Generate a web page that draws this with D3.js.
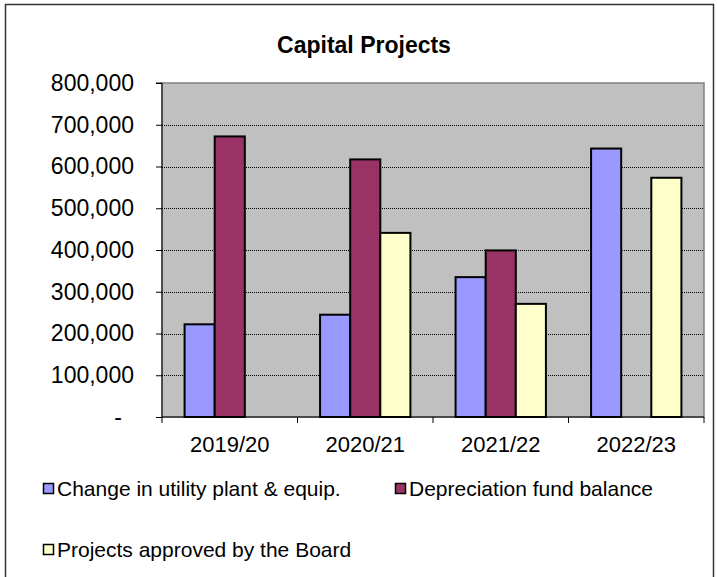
<!DOCTYPE html>
<html>
<head>
<meta charset="utf-8">
<script src="https://cdn.jsdelivr.net/npm/d3@7"></script>
<style>
  html, body { margin: 0; padding: 0; background: #fff; }
  svg { display: block; font-family: "Liberation Sans", Arial, sans-serif; }
</style>
</head>
<body>
<svg id="chart" width="717" height="577"></svg>
<script>
const categories = ["2019/20", "2020/21", "2021/22", "2022/23"];
const seriesNames = ["Change in utility plant & equip.", "Depreciation fund balance", "Projects approved by the Board"];
const changeInPlant = [222000, 245000, 335000, 643000];
const depreciationFund = [672000, 617000, 399000, null];
const projectsApproved = [null, 441000, 271000, 573000];
const yTicks = [0, 100000, 200000, 300000, 400000, 500000, 600000, 700000, 800000];
const colors = ["#9999FF", "#993366", "#FFFFCC"];

const seriesValues = [changeInPlant, depreciationFund, projectsApproved];

const svg = d3.select("#chart");
const plot = { left: 162, right: 704, top: 83, bottom: 417 };

// outer frame
svg.append("rect").attr("x", 5.5).attr("y", 4.5).attr("width", 708).attr("height", 620)
  .attr("fill", "#fff").attr("stroke", "#333").attr("stroke-width", 1.5);

// title
svg.append("text").attr("x", 364).attr("y", 53).attr("text-anchor", "middle")
  .attr("font-size", 23).attr("font-weight", "bold").text("Capital Projects");

const x0 = d3.scaleBand().domain(categories).range([plot.left, plot.right]).paddingInner(0).paddingOuter(0);
const x1 = d3.scaleBand().domain(d3.range(seriesNames.length)).range([0, x0.bandwidth()])
  .paddingInner(0).paddingOuter(0.75);
const y = d3.scaleLinear().domain([0, 800000]).range([plot.bottom, plot.top]);

// plot background
svg.append("rect").attr("x", plot.left).attr("y", plot.top)
  .attr("width", plot.right - plot.left).attr("height", plot.bottom - plot.top)
  .attr("fill", "#C0C0C0").attr("stroke", "#808080").attr("stroke-width", 1.5);

// gridlines
svg.append("g").selectAll("line").data(yTicks.filter(d => d > 0 && d < 800000)).join("line")
  .attr("x1", plot.left).attr("x2", plot.right)
  .attr("y1", d => Math.round(y(d)) + 0.5).attr("y2", d => Math.round(y(d)) + 0.5)
  .attr("stroke", "#000").attr("stroke-width", 1).attr("stroke-dasharray", "1,1");

// bars
const groups = svg.append("g").selectAll("g").data(categories).join("g")
  .attr("transform", d => `translate(${x0(d)},0)`);
groups.selectAll("rect")
  .data((c, ci) => seriesValues.map((vals, si) => ({ si, v: vals[ci] })).filter(d => d.v != null))
  .join("rect")
  .attr("x", d => x1(d.si))
  .attr("y", d => y(d.v))
  .attr("width", x1.bandwidth())
  .attr("height", d => y(0) - y(d.v))
  .attr("fill", d => colors[d.si])
  .attr("stroke", "#000").attr("stroke-width", 2);

// y axis
const fmt = d3.format(",");
const yAxis = d3.axisLeft(y).tickValues(yTicks).tickSize(6).tickPadding(22)
  .tickFormat(d => d === 0 ? "-" : fmt(d));
const yg = svg.append("g").attr("transform", `translate(${plot.left},0)`).call(yAxis);
yg.select(".domain").attr("stroke", "#000").attr("d", `M-6,${plot.top}H0V${plot.bottom}`);
yg.selectAll(".tick line").attr("stroke", "#000");
yg.selectAll(".tick text").attr("font-size", 23).attr("fill", "#000")
  .attr("font-family", "'Liberation Sans', Arial, sans-serif")
  .attr("dx", d => d === 0 ? -12 : 0);

// x axis
const xg = svg.append("g").attr("transform", `translate(0,${plot.bottom})`);
xg.append("line").attr("x1", plot.left).attr("x2", plot.right).attr("y1", 0).attr("y2", 0)
  .attr("stroke", "#000").attr("stroke-width", 1);
const boundaries = categories.map(c => x0(c)).concat([x0(categories[categories.length - 1]) + x0.bandwidth()]);
xg.selectAll("line.tick").data(boundaries).join("line").attr("class", "tick")
  .attr("x1", d => d).attr("x2", d => d).attr("y1", 0).attr("y2", 6).attr("stroke", "#000");
xg.selectAll("text").data(categories).join("text")
  .attr("x", d => x0(d) + x0.bandwidth() / 2)
  .attr("y", 35).attr("text-anchor", "middle").attr("font-size", 22).text(d => d);

// legend
const legendPos = [[43, 489], [395, 489], [43, 550]];
const lg = svg.append("g").selectAll("g").data(seriesNames).join("g")
  .attr("transform", (d, i) => `translate(${legendPos[i][0]},${legendPos[i][1]})`);
lg.append("rect").attr("x", 0.5).attr("y", -5.5).attr("width", 10).attr("height", 10)
  .attr("fill", (d, i) => colors[i]).attr("stroke", "#000").attr("stroke-width", 1.5);
lg.append("text").attr("x", 14).attr("y", 7).attr("font-size", 21).text(d => d);
</script>
</body>
</html>
